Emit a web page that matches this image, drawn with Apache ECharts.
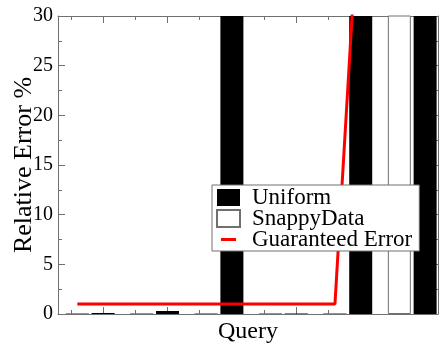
<!DOCTYPE html>
<html>
<head>
<meta charset="utf-8">
<script src="https://cdn.jsdelivr.net/npm/echarts@6/dist/echarts.min.js"></script>
<style>
  html, body { margin: 0; padding: 0; background: #fff; }
  #chart { width: 442px; height: 345px; }
</style>
</head>
<body>
<div id="chart"></div>
<script>
// Query positions on the x scale: Uniform bars sit on the query, SnappyData just left of it
const queryPos = [1, 2, 3, 4, 5, 6];
const snappyPos = [0.6, 1.6, 2.6, 3.6, 4.6, 5.6];
const minorPos = [0.5, 1.5, 2.5, 3.5, 4.5, 5.5];

// Relative error (%) per query
const uniformErr = [0.1, 0.3, 48, 0.05, 62, 75];
const snappyErr = [0, 0, 0, 0, 0, 40];
const guaranteedErr = [1, 1, 1, 1, 1, 110];

// Y tick labels
const yTicks = [0, 5, 10, 15, 20, 25, 30];

const seriesNames = ['Uniform', 'SnappyData', 'Guaranteed Error'];

const FONT = 'Liberation Serif';
const AXIS_COLOR = '#707070';

const pairs = (xs, ys) => ys.map((v, i) => [xs[i], v]);

function xAxisDef(position, ticks, len, withLine) {
  return {
    type: 'value',
    position: position,
    min: 0.3,
    max: 6.2,
    axisLine: { show: withLine, onZero: false, lineStyle: { color: AXIS_COLOR, width: 1 } },
    axisTick: { show: true, inside: true, length: len, customValues: ticks,
                lineStyle: { color: AXIS_COLOR, width: 1 } },
    axisLabel: { show: false },
    splitLine: { show: false }
  };
}

function yAxisDef(position, withLabels) {
  return {
    type: 'value',
    position: position,
    min: yTicks[0],
    max: yTicks[yTicks.length - 1],
    interval: yTicks[1] - yTicks[0],
    axisLine: { show: true, lineStyle: { color: AXIS_COLOR, width: 1 } },
    axisTick: { show: true, inside: true, length: 7, lineStyle: { color: AXIS_COLOR, width: 1 } },
    minorTick: { show: true, splitNumber: 2, length: 4, lineStyle: { color: AXIS_COLOR, width: 1 } },
    axisLabel: { show: withLabels, color: '#000', fontFamily: FONT, fontSize: 20, margin: 5 },
    splitLine: { show: false }
  };
}

const xBottom = xAxisDef('bottom', queryPos, 7, true);
xBottom.name = 'Query';
xBottom.nameLocation = 'middle';
xBottom.nameGap = 6;
xBottom.nameMoveOverlap = false;
xBottom.nameTextStyle = { color: '#000', fontFamily: FONT, fontSize: 24 };

const yLeft = yAxisDef('left', true);
yLeft.name = 'Relative Error %';
yLeft.nameLocation = 'middle';
yLeft.nameRotate = 90;
yLeft.nameGap = 21;
yLeft.nameMoveOverlap = false;
yLeft.nameTextStyle = { color: '#000', fontFamily: FONT, fontSize: 26 };

const chart = echarts.init(document.getElementById('chart'), null, { renderer: 'canvas' });

chart.setOption({
  animation: false,
  backgroundColor: '#fff',
  grid: { left: 58, top: 16, width: 380, height: 298, containLabel: false, outerBoundsMode: 'none' },
  xAxis: [
    xBottom,
    xAxisDef('bottom', minorPos, 4, false),
    xAxisDef('top', queryPos, 7, true),
    xAxisDef('top', minorPos, 4, false)
  ],
  yAxis: [yLeft, yAxisDef('right', false)],
  legend: {
    orient: 'vertical',
    left: 212,
    top: 185,
    padding: [1, 7, 0, 4],
    itemGap: -2,
    itemWidth: 23,
    itemHeight: 17,
    selectedMode: false,
    backgroundColor: '#fff',
    borderColor: AXIS_COLOR,
    borderWidth: 1,
    borderRadius: 0,
    textStyle: { color: '#000', fontFamily: FONT, fontSize: 23, padding: [0, 0, 0, 7] },
    data: [
      { name: seriesNames[0], icon: 'rect' },
      { name: seriesNames[1], icon: 'rect' },
      { name: seriesNames[2],
        icon: 'path://M0,0h0.05v0.05h-0.05z M23,17h-0.05v-0.05h0.05z M4,7h15v3h-15z',
        itemStyle: { color: '#ff0000' } }
    ]
  },
  series: [
    {
      name: seriesNames[0],
      type: 'bar',
      xAxisIndex: 0,
      yAxisIndex: 0,
      barWidth: 23,
      barGap: '-100%',
      itemStyle: { color: '#000' },
      data: pairs(queryPos, uniformErr)
    },
    {
      name: seriesNames[1],
      type: 'bar',
      xAxisIndex: 0,
      yAxisIndex: 0,
      barWidth: 23,
      barGap: '-100%',
      itemStyle: { color: '#fff', borderColor: AXIS_COLOR, borderWidth: 1 },
      data: pairs(snappyPos, snappyErr)
    },
    {
      name: seriesNames[2],
      type: 'line',
      xAxisIndex: 0,
      yAxisIndex: 0,
      symbol: 'none',
      clip: true,
      lineStyle: { color: '#ff0000', width: 3 },
      itemStyle: { color: '#ff0000' },
      data: pairs(snappyPos, guaranteedErr)
    }
  ]
});
</script>
</body>
</html>
